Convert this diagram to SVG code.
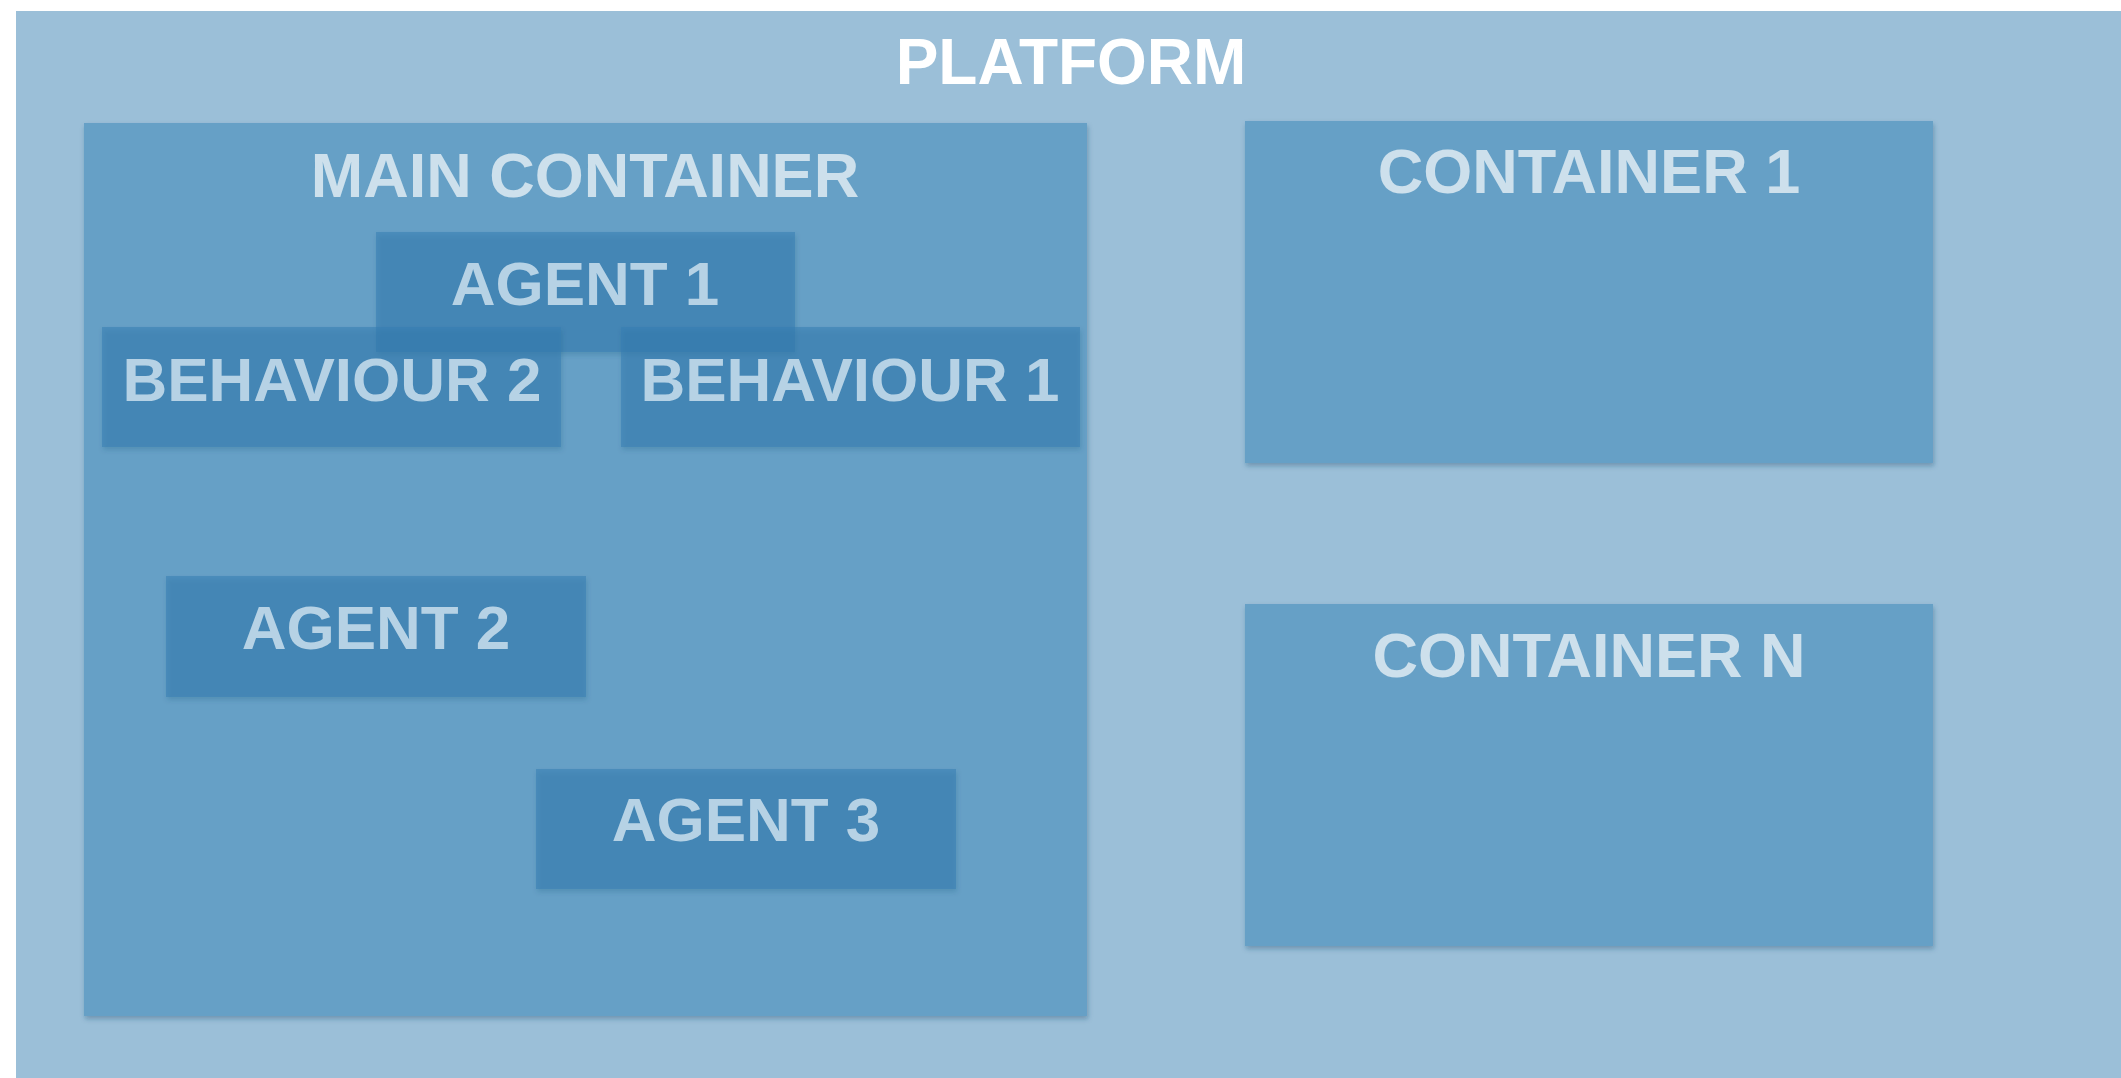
<svg xmlns="http://www.w3.org/2000/svg" width="2121" height="1078" viewBox="0 0 2121 1078">
  <defs>
    <filter id="shadow" x="-5%" y="-5%" width="110%" height="115%">
      <feDropShadow dx="1" dy="3" stdDeviation="2.5" flood-color="#1f4a6a" flood-opacity="0.35"/>
    </filter>
    <style>
      .platform { fill: #9bbfd8; }
      .container { fill: #66a0c6; filter: url(#shadow); }
      .item { fill: #357eb2; fill-opacity: 0.55; filter: url(#shadow); }
      text { font-family: "Liberation Sans", Arial, sans-serif; font-weight: bold; text-anchor: middle; }
      .title { fill: #ffffff; font-size: 64px; }
      .clabel { fill: #cde0ec; font-size: 63px; }
      .ilabel { fill: #b6d2e5; font-size: 62px; }
    </style>
  </defs>
  <rect x="0" y="0" width="2121" height="1078" fill="#ffffff"/>

  <g id="platform">
    <rect class="platform" x="16" y="11" width="2120" height="1080"/>
    <text class="title" x="1071" y="84">PLATFORM</text>
  </g>

  <g id="main-container">
    <rect class="container" x="84" y="123" width="1003" height="893"/>
    <text class="clabel" x="585" y="197">MAIN CONTAINER</text>
  </g>

  <g id="container-1">
    <rect class="container" x="1245" y="121" width="688" height="342"/>
    <text class="clabel" x="1589" y="193">CONTAINER 1</text>
  </g>

  <g id="container-n">
    <rect class="container" x="1245" y="604" width="688" height="342"/>
    <text class="clabel" x="1589" y="677">CONTAINER N</text>
  </g>

  <g id="agent-1">
    <rect class="item" x="376" y="232" width="419" height="120"/>
    <text class="ilabel" x="585" y="305">AGENT 1</text>
  </g>

  <g id="behaviour-2">
    <rect class="item" x="102" y="327" width="459" height="120"/>
    <text class="ilabel" x="332" y="401">BEHAVIOUR 2</text>
  </g>

  <g id="behaviour-1">
    <rect class="item" x="621" y="327" width="459" height="120"/>
    <text class="ilabel" x="850" y="401">BEHAVIOUR 1</text>
  </g>

  <g id="agent-2">
    <rect class="item" x="166" y="576" width="420" height="121"/>
    <text class="ilabel" x="376" y="649">AGENT 2</text>
  </g>

  <g id="agent-3">
    <rect class="item" x="536" y="769" width="420" height="120"/>
    <text class="ilabel" x="746" y="841">AGENT 3</text>
  </g>

  <g id="connectors"></g>
</svg>
